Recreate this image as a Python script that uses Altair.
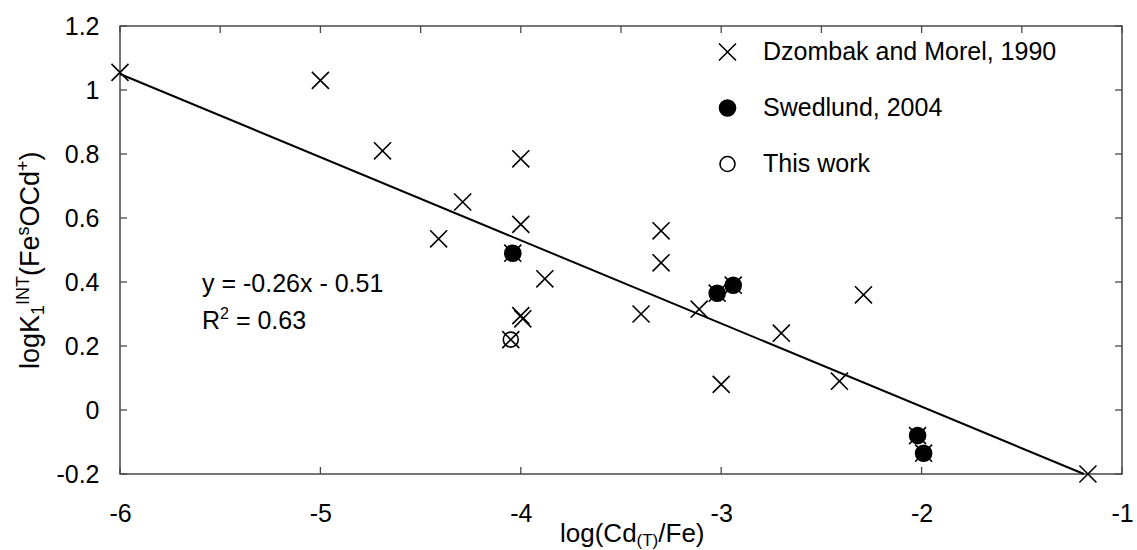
import altair as alt
import pandas as pd

# ---------------- data ----------------
series_names = ["Dzombak and Morel, 1990", "Swedlund, 2004", "This work"]

dz_x = [-6.0, -5.0, -4.69, -4.29, -4.41, -4.0, -4.0, -4.04, -3.88, -4.0, -3.99, -4.05,
        -3.4, -3.3, -3.3, -3.11, -3.02, -2.94, -3.0, -2.7, -2.41, -2.29, -2.02, -1.99, -1.17]
dz_y = [1.055, 1.03, 0.81, 0.65, 0.535, 0.785, 0.58, 0.49, 0.41, 0.295, 0.285, 0.22,
        0.30, 0.56, 0.46, 0.315, 0.365, 0.39, 0.08, 0.24, 0.09, 0.36, -0.08, -0.135, -0.2]

sw_x = [-4.04, -3.02, -2.94, -2.02, -1.99]
sw_y = [0.49, 0.365, 0.39, -0.08, -0.135]

tw_x = [-4.05]
tw_y = [0.22]

fit_x = [-6.0, -1.19]
fit_y = [1.05, -0.20]

x_ticks = [-6, -5, -4, -3, -2, -1]
x_top_ticks = [-6, -5.5, -5, -4.5, -4, -3.5, -3, -2.5, -2, -1.5, -1]
y_ticks = [-0.2, 0, 0.2, 0.4, 0.6, 0.8, 1, 1.2]

eq_line1 = "y = -0.26x - 0.51"
eq_line2 = ["R", "2", "=", "0.63"]
y_title = ["logK", "1", "INT", "(Fe", "s", "OCd", "+", ")"]
x_title = ["log(Cd", "(T)", "/Fe)"]

# ---------------- layout / style ----------------
W, H = 1002, 448
FONT = "Liberation Sans"
AXC = "#4a4a4a"
XPATH = "M-1,-1L1,1M-1,1L1,-1"

ARIAL = {"l": .222, "o": .556, "g": .556, "K": .667, "1": .556, "I": .278, "N": .722,
         "T": .611, "(": .333, ")": .333, "F": .611, "e": .556, "s": .5, "O": .778,
         "C": .722, "d": .556, "+": .584, "/": .278, "R": .722, "2": .556, " ": .278,
         "=": .584, "0": .556, ".": .278, "6": .556, "3": .556}


def tw(s, size):
    return sum(ARIAL.get(c, 0.556) for c in s) * size


def rich(pieces, x, y, angle=None):
    """pieces: list of (text, fontsize, dy, gap_before)"""
    layers = []
    off = 0.0
    for text, size, dy, gap in pieces:
        off += gap
        kw = dict(align="left", baseline="alphabetic", font=FONT, fontSize=size,
                  color="black", dx=round(off, 2), dy=dy)
        if angle is not None:
            kw["angle"] = angle
        layers.append(
            alt.Chart(pd.DataFrame({"t": [text]})).mark_text(**kw).encode(
                text="t:N", x=alt.value(x), y=alt.value(y))
        )
        off += tw(text, size)
    return layers


xs = alt.Scale(domain=[-6, -1], nice=False, zero=False)
ys = alt.Scale(domain=[-0.2, 1.2], nice=False, zero=False)

pts = pd.DataFrame({
    "x": dz_x + sw_x + tw_x,
    "y": dz_y + sw_y + tw_y,
    "series": [series_names[0]] * len(dz_x) + [series_names[1]] * len(sw_x)
    + [series_names[2]] * len(tw_x),
})

legend = alt.Legend(title=None, orient="none", legendX=595, legendY=13.5,
                    labelFont=FONT, labelFontSize=25, labelColor="black",
                    labelOffset=23, rowPadding=30, padding=0, labelLimit=500,
                    symbolStrokeWidth=1.6, symbolOpacity=1)

x_axis = alt.Axis(values=x_ticks,
                  labelExpr="(datum.value < 0 ? '-' : '') + format(abs(datum.value), 'd')",
                  labelFont=FONT, labelFontSize=25, labelColor="black", labelPadding=27,
                  ticks=False, tickSize=0, domain=False, grid=False, title=None,
                  labelFlush=False, labelOverlap=False)
y_axis = alt.Axis(values=y_ticks,
                  labelExpr="(datum.value < 0 ? '-' : '') + format(abs(datum.value), '.1~f')",
                  labelFont=FONT, labelFontSize=25, labelColor="black", labelPadding=21,
                  ticks=False, tickSize=0, domain=False, grid=False, title=None,
                  labelOverlap=False)

points = alt.Chart(pts).mark_point(filled=False, opacity=1, strokeWidth=1.6).encode(
    x=alt.X("x:Q", scale=xs, axis=x_axis),
    y=alt.Y("y:Q", scale=ys, axis=y_axis),
    shape=alt.Shape("series:N", scale=alt.Scale(domain=series_names,
                    range=[XPATH, "circle", "circle"]), legend=legend),
    fill=alt.Fill("series:N", scale=alt.Scale(domain=series_names,
                  range=["transparent", "black", "transparent"]), legend=legend),
    stroke=alt.Stroke("series:N", scale=alt.Scale(domain=series_names,
                      range=["black", "black", "black"]), legend=legend),
    size=alt.Size("series:N", scale=alt.Scale(domain=series_names,
                  range=[290, 225, 225]), legend=legend),
)

fit = alt.Chart(pd.DataFrame({"x": fit_x, "y": fit_y})).mark_line(
    color="black", strokeWidth=2).encode(
    x=alt.X("x:Q", scale=xs, axis=x_axis),
    y=alt.Y("y:Q", scale=ys, axis=y_axis))

tick_kw = dict(color=AXC, strokeWidth=1.3)
bottom_ticks = alt.Chart(pd.DataFrame({"x": x_ticks})).mark_rule(**tick_kw).encode(
    x=alt.X("x:Q", scale=xs, axis=x_axis), y=alt.value(H), y2=alt.value(H - 7))
top_ticks = alt.Chart(pd.DataFrame({"x": x_top_ticks})).mark_rule(**tick_kw).encode(
    x=alt.X("x:Q", scale=xs, axis=x_axis), y=alt.value(0), y2=alt.value(7))
left_ticks = alt.Chart(pd.DataFrame({"y": y_ticks})).mark_rule(**tick_kw).encode(
    y=alt.Y("y:Q", scale=ys, axis=y_axis), x=alt.value(0), x2=alt.value(7))
right_ticks = alt.Chart(pd.DataFrame({"y": y_ticks})).mark_rule(**tick_kw).encode(
    y=alt.Y("y:Q", scale=ys, axis=y_axis), x=alt.value(W), x2=alt.value(W - 7))

# equation annotation
eq1 = alt.Chart(pd.DataFrame({"t": [eq_line1]})).mark_text(
    align="left", baseline="alphabetic", font=FONT, fontSize=25, color="black").encode(
    text="t:N", x=alt.value(82), y=alt.value(266))
eq2 = rich([(eq_line2[0], 25, 0, 0), (eq_line2[1], 16, -10, 0),
            (eq_line2[2], 25, 0, tw(" ", 25)), (eq_line2[3], 25, 0, tw(" ", 25))],
           82, 303)

# axis titles built from pieces (sub/superscripts)
yt = rich([(y_title[0], 27, 0, 0), (y_title[1], 18, 5, 0), (y_title[2], 18, -10, 0),
           (y_title[3], 27, 0, 0), (y_title[4], 18, -10, 0), (y_title[5], 27, 0, 0),
           (y_title[6], 18, -10, 0), (y_title[7], 27, 0, 0)],
          -81, 343, angle=270)
xt = rich([(x_title[0], 26, 0, 0), (x_title[1], 17, 4, 0), (x_title[2], 26, 0, 0)],
          440, 516)

chart = alt.layer(
    fit, bottom_ticks, top_ticks, left_ticks, right_ticks, points, eq1, *eq2, *yt, *xt
).properties(
    width=W, height=H,
    padding={"left": 120, "top": 26, "right": 15, "bottom": 76},
    autosize=alt.AutoSizeParams(type="none"),
    background="white",
).configure_view(
    stroke=AXC, strokeWidth=1.5
)

chart.save("out.html", embed_options={"renderer": "svg", "actions": False})
